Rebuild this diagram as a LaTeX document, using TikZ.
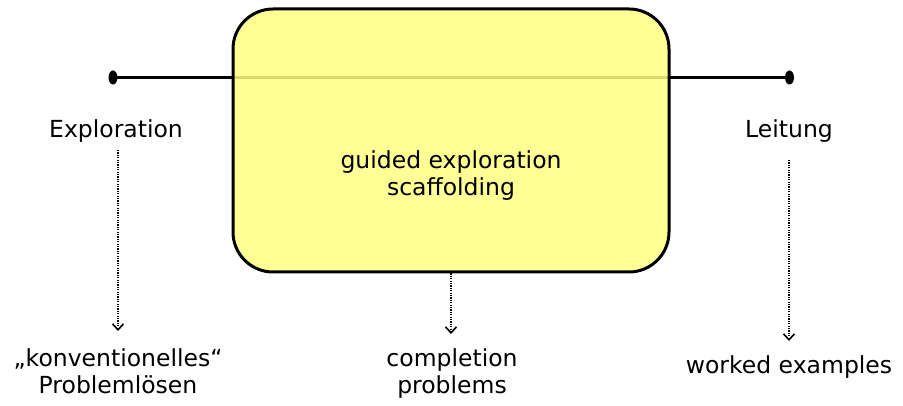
\documentclass[tikz,border=0pt]{standalone}
\usepackage{fontspec}
\setmainfont{DejaVu Sans}
\usetikzlibrary{arrows.meta,shapes.geometric}
\definecolor{boxyellow}{RGB}{255,255,130}
\begin{document}
\begin{tikzpicture}[x=1pt,y=-1pt,
  lbl/.style={font=\fontsize{23.5}{27}\selectfont, align=center, inner sep=0pt},
  darrow/.style={line width=2pt, dash pattern=on 1.2pt off 1.2pt, -{Straight Barb[length=6pt,width=11pt,line width=1.6pt]}},
  endpt/.style={ellipse, fill=black, minimum width=9pt, minimum height=14pt, inner sep=0pt},
  mainbox/.style={draw=black, line width=3pt, fill=boxyellow, fill opacity=0.85, rounded corners=40pt}]
\useasboundingbox (0,0) rectangle (903,406);
\node[endpt] (L) at (113,77.5) {};
\node[endpt] (R) at (789.5,77.5) {};
\draw[line width=2.6pt] (L.center) -- (R.center);
\draw[mainbox] (233,9) rectangle (669,272);
\node[lbl] (box) at (451,176) {guided exploration\\scaffolding};
\coordinate (boxbottom) at (451,273.5);
\coordinate (lstart) at (118,150);
\coordinate (rstart) at (789,160);
\node[lbl] (expl) at (116,131) {Exploration};
\node[lbl] (leit) at (789,131) {Leitung};
\node[lbl] (konv) at (118,371) {„konventionelles“\\Problemlösen};
\node[lbl] (compl) at (452,374) {completion\\problems};
\node[lbl] (worked) at (789,367) {worked examples};
\coordinate (ltip) at (118,331);
\coordinate (mtip) at (451,334);
\coordinate (rtip) at (789,341);
\draw[darrow] (lstart) -- (ltip);
\draw[darrow] (boxbottom) -- (mtip);
\draw[darrow] (rstart) -- (rtip);
\end{tikzpicture}
\end{document}
